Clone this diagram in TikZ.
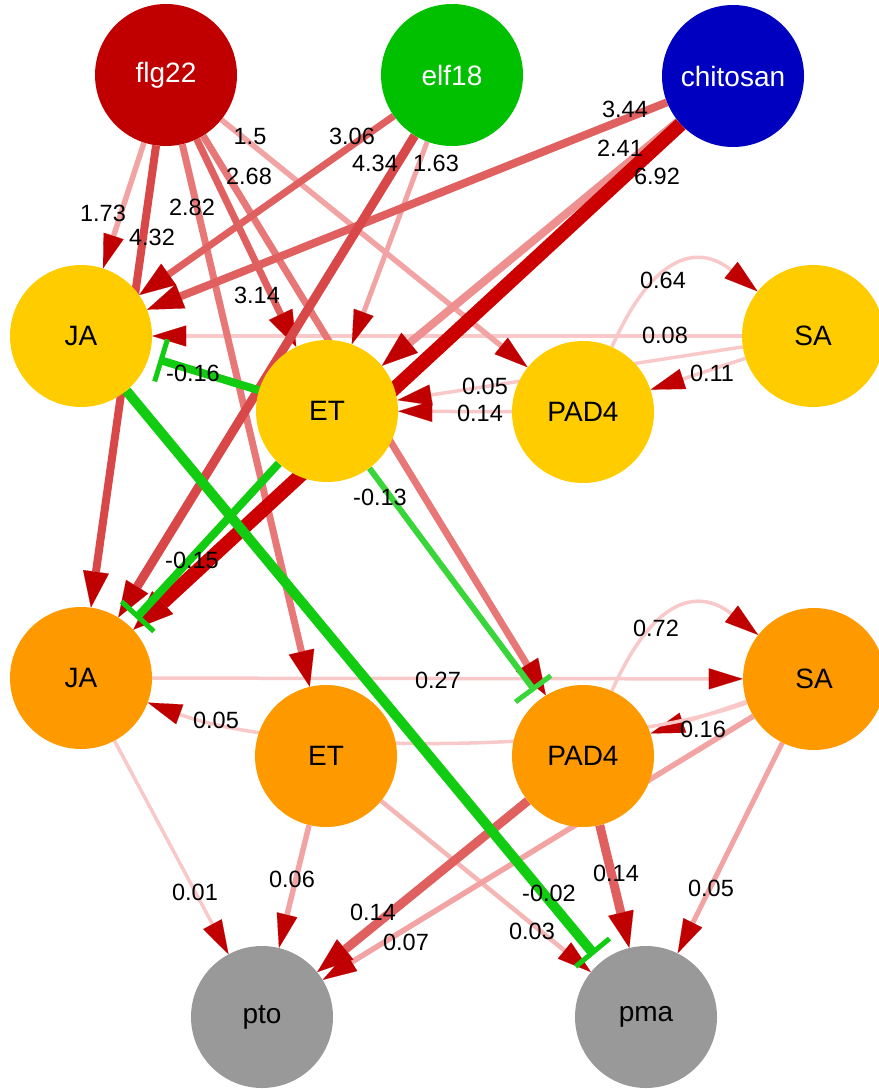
\documentclass[tikz,border=0pt]{standalone}
\usepackage{fontspec}
\setmainfont{Liberation Sans}
\usetikzlibrary{arrows.meta}

% vertex fills
\definecolor{flgred}{HTML}{C00000}
\definecolor{elfgreen}{HTML}{00C000}
\definecolor{chitoblue}{HTML}{0000C0}
\definecolor{earlyhorm}{HTML}{FFCC00}
\definecolor{latehorm}{HTML}{FF9900}
\definecolor{outgrey}{HTML}{999999}
% link colours, strongest to weakest
\definecolor{tipred}{HTML}{C00000}
\definecolor{wA}{HTML}{CC0000}
\definecolor{wB}{HTML}{D94848}
\definecolor{wC}{HTML}{E06060}
\definecolor{wD}{HTML}{E87878}
\definecolor{wE}{HTML}{EE9090}
\definecolor{wF}{HTML}{F2A4A4}
\definecolor{wG}{HTML}{F5B6B6}
\definecolor{wH}{HTML}{F9C8C8}
\definecolor{inhA}{HTML}{12CC12}
\definecolor{inhB}{HTML}{38D638}

\pgfdeclarelayer{links}
\pgfsetlayers{links,main}

\begin{document}
\begin{tikzpicture}[x=1pt,y=-1pt,
  vtx/.style={circle,minimum size=142pt,inner sep=0pt,draw=none,font=\fontsize{28}{30}\selectfont},
  wlab/.style={inner sep=0pt,font=\fontsize{23.5}{25}\selectfont,text=black},
  tipthin/.style={-{Triangle[length=34pt,width=21pt,line width=0.1pt,color=tipred,fill=tipred]}},
  tipmid/.style={-{Triangle[length=36pt,width=26pt,line width=0.1pt,color=tipred,fill=tipred]}},
  tipbig/.style={-{Triangle[length=40pt,width=31pt,line width=0.1pt,color=tipred,fill=tipred]}},
  inhib/.style={-{Bar[width=44pt,line width=5pt]},shorten >=10pt},
]
\useasboundingbox (0,0) rectangle (878,1089);

% elicitors
\node[vtx,fill=flgred,text=white] (flg) at (166,75) {flg22};
\node[vtx,fill=elfgreen,text=white] (elf) at (452,75) {elf18};
\node[vtx,fill=chitoblue,text=white] (chi) at (733,76) {chitosan};
% early hormone sectors
\node[vtx,fill=earlyhorm] (JAt) at (81,336) {JA};
\node[vtx,fill=earlyhorm] (ETt) at (327,411) {ET};
\node[vtx,fill=earlyhorm] (PADt) at (583,412) {PAD4};
\node[vtx,fill=earlyhorm] (SAt) at (813,336) {SA};
% late hormone sectors
\node[vtx,fill=latehorm] (JAm) at (81,678) {JA};
\node[vtx,fill=latehorm] (ETm) at (326,756) {ET};
\node[vtx,fill=latehorm] (PADm) at (583,756) {PAD4};
\node[vtx,fill=latehorm] (SAm) at (814,679) {SA};
% outputs
\node[vtx,fill=outgrey] (pto) at (262,1017) {pto};
\node[vtx,fill=outgrey] (pma) at (646,1017) {pma};

\begin{pgfonlayer}{links}
% weak links
\draw[tipthin,draw=wH,line width=3.5pt] (SAt) -- (JAt);
\draw[tipthin,draw=wH,line width=3.5pt] (PADt) .. controls (655,250) and (700,245) .. (SAt);
\draw[tipthin,draw=wH,line width=3.5pt] (SAt) -- (PADt);
\draw[tipthin,draw=wH,line width=3.5pt] (SAt) -- (ETt);
\draw[tipthin,draw=wH,line width=3.5pt] (PADt) -- (ETt);
\draw[tipthin,draw=wH,line width=3.5pt] (JAm) -- (SAm);
\draw[tipthin,draw=wH,line width=3.5pt] (PADm) .. controls (655,594) and (700,589) .. (SAm);
\draw[tipthin,draw=wH,line width=3.5pt] (SAm) -- (PADm);
\draw[tipthin,draw=wH,line width=3.5pt] (SAm) .. controls (600,755) and (290,755) .. (JAm);
\draw[tipthin,draw=wH,line width=3.5pt] (JAm) -- (pto);
\draw[tipthin,draw=wG,line width=4.5pt] (ETm) -- (pma);
\draw[tipthin,draw=wF,line width=5.5pt] (ETm) -- (pto);
\draw[tipthin,draw=wF,line width=5.5pt] (SAm) -- (pto);
\draw[tipthin,draw=wF,line width=5pt] (SAm) -- (pma);
% elicitor links
\draw[tipthin,draw=wF,line width=5.5pt] (flg) -- (JAt);
\draw[tipthin,draw=wF,line width=5.5pt] (flg) -- (PADt);
\draw[tipthin,draw=wF,line width=5pt] (elf) -- (ETt);
\draw[tipmid,draw=wE,line width=8pt] (chi) -- (ETt);
\draw[tipmid,draw=wD,line width=7pt] (flg) -- (ETm);
\draw[tipmid,draw=wD,line width=7pt] (flg) -- (PADm);
\draw[tipmid,draw=wC,line width=7pt] (elf) -- (JAt);
\draw[tipmid,draw=wC,line width=7pt] (flg) -- (ETt);
\draw[tipmid,draw=wC,line width=8pt] (chi) -- (JAt);
\draw[tipmid,draw=wB,line width=8pt] (flg) -- (JAm);
\draw[tipmid,draw=wB,line width=9pt] (elf) -- (JAm);
\draw[tipbig,draw=wA,line width=14pt] (chi) -- (JAm);
\draw[tipmid,draw=wC,line width=9pt] (PADm) -- (pto);
\draw[tipmid,draw=wC,line width=9pt] (PADm) -- (pma);
% inhibitory links
\draw[inhib,draw=inhA,line width=8pt] (ETt) -- (JAt);
\draw[inhib,draw=inhA,line width=8pt] (ETt) -- (JAm);
\draw[inhib,draw=inhB,line width=6pt] (ETt) -- (PADm);
\draw[inhib,draw=inhA,line width=10pt] (JAt) -- (pma);
\end{pgfonlayer}

% link weights
\node[wlab] (w01) at (103,213) {1.73};
\node[wlab] (w02) at (152,237) {4.32};
\node[wlab] (w03) at (192,207) {2.82};
\node[wlab] (w04) at (250,137) {1.5};
\node[wlab] (w05) at (249,176) {2.68};
\node[wlab] (w06) at (257,295) {3.14};
\node[wlab] (w07) at (352,136) {3.06};
\node[wlab] (w08) at (375,163) {4.34};
\node[wlab] (w09) at (436,163) {1.63};
\node[wlab] (w10) at (625,109) {3.44};
\node[wlab] (w11) at (620,148) {2.41};
\node[wlab] (w12) at (657,176) {6.92};
\node[wlab] (w13) at (663,280) {0.64};
\node[wlab] (w14) at (665,335) {0.08};
\node[wlab] (w15) at (712,373) {0.11};
\node[wlab] (w16) at (485,386) {0.05};
\node[wlab] (w17) at (480,413) {0.14};
\node[wlab] (w18) at (193,373) {-0.16};
\node[wlab] (w19) at (380,497) {-0.13};
\node[wlab] (w20) at (192,560) {-0.15};
\node[wlab] (w21) at (656,628) {0.72};
\node[wlab] (w22) at (438,680) {0.27};
\node[wlab] (w23) at (216,720) {0.05};
\node[wlab] (w24) at (703,729) {0.16};
\node[wlab] (w25) at (195,892) {0.01};
\node[wlab] (w26) at (292,879) {0.06};
\node[wlab] (w27) at (373,912) {0.14};
\node[wlab] (w28) at (406,942) {0.07};
\node[wlab] (w29) at (549,893) {-0.02};
\node[wlab] (w30) at (616,873) {0.14};
\node[wlab] (w31) at (711,888) {0.05};
\node[wlab] (w32) at (532,931) {0.03};
\end{tikzpicture}
\end{document}
